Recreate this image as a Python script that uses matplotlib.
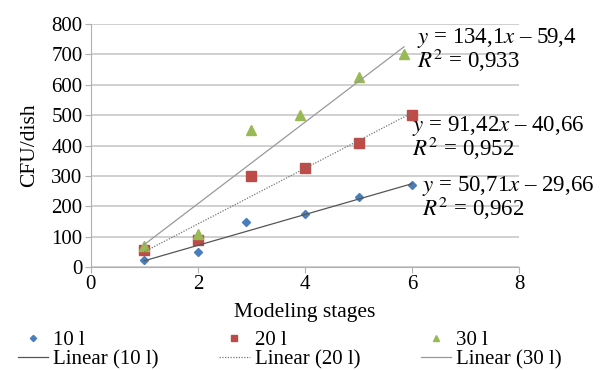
import matplotlib.pyplot as plt
import numpy as np

plt.rcParams['font.family'] = ['Liberation Serif', 'DejaVu Serif']
plt.rcParams['mathtext.fontset'] = 'stix'

# Dane punktowe
x10 = [1, 2, 2.9, 4, 5, 6]
y10 = [25, 50, 150, 175, 230, 270]
x20 = [1, 2, 3, 4, 5, 6]
y20 = [55, 88, 300, 325, 410, 500]
x30 = [1, 2, 3, 3.9, 5, 5.85]
y30 = [70, 108, 450, 500, 625, 700]

# Linie trendu (współczynniki z wykresu)
a10, b10, r10 = 50.71, -29.66, '0,962'
a20, b20, r20 = 91.42, -40.66, '0,952'
a30, b30, r30 = 134.1, -59.4, '0,933'

fig = plt.figure(figsize=(6.1, 3.7), dpi=100)
ax = fig.add_axes([0.149, 0.278, 0.702, 0.657])

blue, red, green = '#4A7EBB', '#BE4B48', '#98B954'

p1, = ax.plot(x10, y10, 'D', color=blue, markersize=4.5, linestyle='none', label='10 l')
p2, = ax.plot(x20, y20, 's', color=red, markersize=6.5, linestyle='none', label='20 l')
p3, = ax.plot(x30, y30, '^', color=green, markersize=6.5, linestyle='none', label='30 l')

t = np.array([x10[0], x10[-1]])
l1, = ax.plot(t, a10 * t + b10, color='#555555', lw=0.9, label='Linear (10 l)')
t = np.array([x20[0], x20[-1]])
l2, = ax.plot(t, a20 * t + b20, color='#777777', lw=0.9, ls=(0, (1, 1.2)), label='Linear (20 l)')
t = np.array([x30[0], x30[-1]])
l3, = ax.plot(t, a30 * t + b30, color='#999999', lw=0.9, label='Linear (30 l)')

fs = 16.5
ax.text(6.09, 714, '$y$ = 134,1$x$ – 59,4\n$R^2$ = ' + r30, fontsize=fs, va='center', linespacing=0.85)
ax.text(5.99, 426, '$y$ = 91,42$x$ – 40,66\n$R^2$ = ' + r20, fontsize=fs, va='center', linespacing=0.85)
ax.text(6.19, 227, '$y$ = 50,71$x$ – 29,66\n$R^2$ = ' + r10, fontsize=fs, va='center', linespacing=0.85)

ax.set_xlim(0, 8)
ax.set_ylim(0, 800)
ax.set_xticks([0, 2, 4, 6, 8])
ax.set_yticks(range(0, 801, 100))
ax.yaxis.grid(True, color='#C8C8C8', lw=1.2)
ax.set_axisbelow(True)
for s in ['top', 'right']:
    ax.spines[s].set_visible(False)
for s in ['left', 'bottom']:
    ax.spines[s].set_color('#B0B0B0')
ax.tick_params(colors='#B0B0B0', labelcolor='black', labelsize=15, length=4, pad=2)
ax.set_xlabel('Modeling stages', fontsize=15.5, va='center')
ax.xaxis.set_label_coords(0.5, -0.185)
ax.set_ylabel('CFU/dish', fontsize=15.5, va='center')
ax.yaxis.set_label_coords(-0.142, 0.5)

fig.legend(handles=[p1, l1, p2, l2, p3, l3], ncol=3, loc='center left',
           bbox_to_anchor=(18 / 610, 1 - 350 / 370), fontsize=15, frameon=False,
           handlelength=1.45, handletextpad=0.25, columnspacing=2.9,
           labelspacing=0.0, borderaxespad=0, borderpad=0, markerscale=0.7)

fig.savefig('out.png', dpi=100)
